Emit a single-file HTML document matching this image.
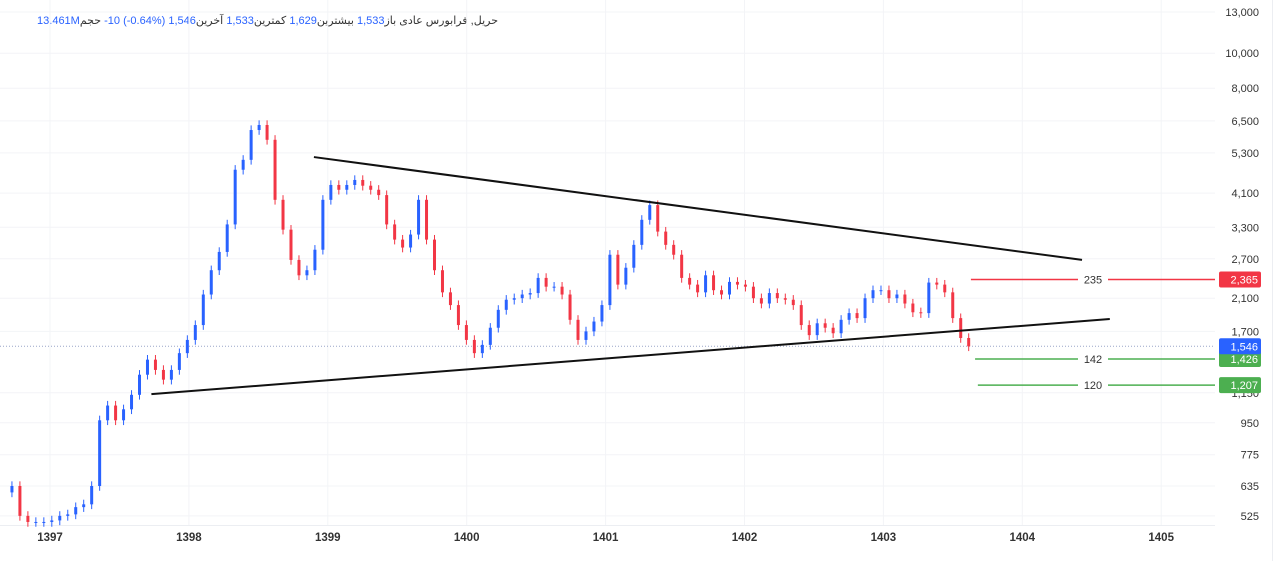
<!DOCTYPE html>
<html><head><meta charset="utf-8">
<style>
body{margin:0;background:#fff;font-family:"Liberation Sans","Noto Sans CJK SC",sans-serif;}
#wrap{position:relative;width:1280px;height:561px;overflow:hidden;}
#hdr{position:absolute;left:14px;top:14px;width:484px;direction:rtl;text-align:right;font-size:11px;color:#333;white-space:nowrap;font-family:"Liberation Sans","DejaVu Sans",sans-serif;}
#hdr .v{color:#2962ff;}
</style></head><body>
<div id="wrap">
<div id="hdr">حریل, فرابورس عادی <span>باز<span class="v">1,533</span></span> <span>بیشترین<span class="v">1,629</span></span> <span>کمترین<span class="v">1,533</span></span> <span>آخرین<span class="v">1,546</span> <span class="v" dir="ltr">-10 (-0.64%)</span></span> <span>حجم<span class="v">13.461M</span></span></div>
<svg id="svg" width="1280" height="561" style="position:absolute;left:0;top:0"></svg>
</div>
<script>
const yTicks=[13000,10000,8000,6500,5300,4100,3300,2700,2100,1700,1150,950,775,635,525];
const xYears=[1397,1398,1399,1400,1401,1402,1403,1404,1405];
const closes=[635,525,505,505,505,510,525,530,555,565,635,965,1060,965,1035,1135,1290,1420,1330,1250,1330,1480,1610,1770,2150,2510,2820,3360,4760,5070,6130,6330,5760,3930,3250,2680,2430,2510,2860,3930,4320,4190,4320,4460,4300,4190,4050,3360,3050,2900,3150,3930,3050,2510,2180,2010,1770,1610,1480,1560,1740,1950,2080,2100,2150,2170,2390,2260,2260,2150,1830,1610,1700,1810,2010,2770,2290,2550,2950,3460,3800,3210,2950,2770,2390,2290,2180,2430,2210,2150,2330,2290,2260,2100,2030,2170,2100,2080,2010,1770,1660,1790,1740,1680,1830,1910,1850,2100,2210,2210,2100,2150,2030,1920,1910,2320,2290,2180,1850,1630,1546];
const startYear=1396.726, stepYear=0.0574;
const trendUpper=[[1398.9,5160],[1404.43,2680]];
const trendLower=[[1397.73,1140],[1404.63,1840]];
const levels=[{p:2365,c:'#f23645',lab:'235',t0:1403.63},{p:1426,c:'#4caf50',lab:'142',t0:1403.66},{p:1207,c:'#4caf50',lab:'120',t0:1403.68}];
const lastPrice=1546;

const NS='http://www.w3.org/2000/svg';
const svg=document.getElementById('svg');
const yTop=12,pxPerLn=157,maxP=13000;
function y(p){return yTop+Math.log(maxP/p)*pxPerLn;}
function x(t){return 50+(t-1397)*138.9;}
function mk(tag,attrs,parent){const e=document.createElementNS(NS,tag);for(const k in attrs)e.setAttribute(k,attrs[k]);(parent||svg).appendChild(e);return e;}
function fmt(v){return v.toLocaleString('en-US');}
const plotR=1215;
const grid=mk('g',{});


yTicks.forEach(v=>{const l=mk('line',{x1:0,x2:plotR,y1:y(v),y2:y(v),stroke:'#f3f4f7','stroke-width':1},grid);});
xYears.forEach(v=>{const l=mk('line',{x1:x(v),x2:x(v),y1:0,y2:525,stroke:'#f3f4f7','stroke-width':1},grid);});
const sep=mk('line',{x1:0,x2:plotR,y1:525.5,y2:525.5,stroke:'#eceef2'});


const sep2=mk('line',{x1:1272.5,x2:1272.5,y1:0,y2:561,stroke:'#eceef2'});


const dl=mk('line',{x1:0,x2:plotR,y1:y(lastPrice),y2:y(lastPrice),stroke:'#9aa6c8','stroke-width':1,'stroke-dasharray':'1 2'});


const cg=mk('g',{});


closes.forEach((c,i)=>{
  const o=i===0?c*0.96:closes[i-1];
  const hi=Math.max(o,c)*1.03, lo=Math.min(o,c)*0.97;
  const cx=x(startYear+i*stepYear);
  const col=c>=o?'#2962ff':'#f23645';
  const w=mk('line',{x1:cx,x2:cx,y1:y(hi),y2:y(lo),stroke:col,'stroke-width':1},cg);
  
  
  const top=y(Math.max(o,c)),bot=y(Math.min(o,c));
  const r=mk('rect',{x:cx-1.5,y:top,width:3,height:Math.max(1,bot-top),fill:col},cg);
  
  
});
[[trendUpper,'upper-trendline'],[trendLower,'lower-trendline']].forEach(([tl,n])=>{
  const l=mk('line',{x1:x(tl[0][0]),y1:y(tl[0][1]),x2:x(tl[1][0]),y2:y(tl[1][1]),stroke:'#111','stroke-width':2});
  
  
});
levels.forEach(L=>{
  const yy=y(L.p), x0=x(L.t0);
  const l1=mk('line',{x1:x0,x2:1078,y1:yy,y2:yy,stroke:L.c,'stroke-width':1.5});
  
  
  const l2=mk('line',{x1:1108,x2:plotR,y1:yy,y2:yy,stroke:L.c,'stroke-width':1.5});
  
  
  const t=mk('text',{x:1093,y:yy+4,'text-anchor':'middle','font-size':11,fill:'#333'});
  t.textContent=L.lab;
  
  
});
yTicks.forEach(v=>{
  const t=mk('text',{x:1259,y:y(v)+4,'text-anchor':'end','font-size':11,fill:'#333'});
  t.textContent=fmt(v);
  
  
});
function tag(p,col,n){
  const yy=y(p);
  const r=mk('rect',{x:1219,y:yy-8,width:42,height:16,rx:2,fill:col});
  
  
  const t=mk('text',{x:1258,y:yy+4,'text-anchor':'end','font-size':11,fill:'#fff'});
  t.textContent=fmt(p);
  
  
}
tag(2365,'#f23645','tag-2365');
tag(1426,'#4caf50','tag-1426');
tag(1207,'#4caf50','tag-1207');
tag(lastPrice,'#2962ff','last-price-tag');
xYears.forEach(v=>{
  const t=mk('text',{x:x(v),y:541,'text-anchor':'middle','font-size':11.5,'font-weight':'bold',fill:'#333'});
  t.textContent=v;
  
  
});
</script>
</body></html>
